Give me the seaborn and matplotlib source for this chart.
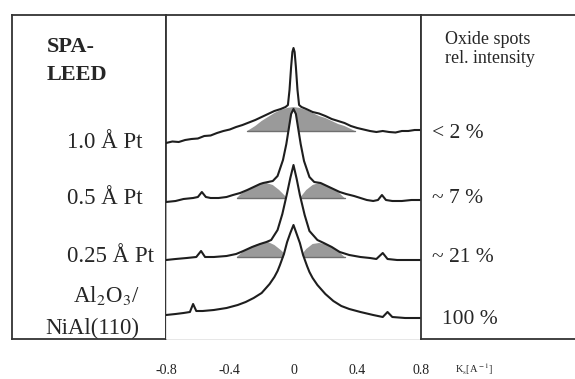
import numpy as np
import seaborn as sns
import matplotlib.pyplot as plt

# --- data (k in 1/A, intensity in arbitrary stacked units) ---
k1 = [-0.80, -0.76, -0.72, -0.68, -0.64, -0.60, -0.56, -0.52, -0.48, -0.44, -0.40, -0.36,
      -0.32, -0.28, -0.24, -0.20, -0.16, -0.12, -0.08, -0.05, -0.035, -0.025, -0.015, -0.007,
      0.0, 0.007, 0.015, 0.025, 0.035, 0.05, 0.08, 0.12, 0.16, 0.20, 0.24, 0.28, 0.32, 0.36,
      0.40, 0.44, 0.48, 0.52, 0.56, 0.60, 0.64, 0.68, 0.72, 0.76, 0.80]
i1 = [196, 197.5, 197, 199, 200, 200.5, 203, 203.5, 206, 208, 209.5, 212, 214, 216.5, 219,
      222, 225, 228, 230, 232, 234, 249, 272, 287, 291, 287, 272, 249, 234, 232, 230, 227,
      225.5, 223, 220, 218, 216, 213, 211, 209.5, 208, 207, 208, 207, 206.5, 208, 208, 209, 209]
g1_k = [-0.29, -0.24, -0.20, -0.16, -0.12, -0.08, -0.04, 0.0, 0.04, 0.08, 0.12, 0.16, 0.20,
        0.24, 0.28, 0.32, 0.36, 0.385]
g1_top = [208, 213, 218, 222, 226, 229, 231, 232, 231, 229, 226, 223, 221, 218, 215, 213, 210, 208]
g1_base = 208

k2 = [-0.80, -0.74, -0.69, -0.63, -0.60, -0.575, -0.55, -0.52, -0.47, -0.42, -0.38, -0.335,
      -0.29, -0.25, -0.21, -0.19, -0.16, -0.13, -0.10, -0.066, -0.045, -0.03, -0.015, 0.0,
      0.015, 0.03, 0.045, 0.066, 0.10, 0.13, 0.17, 0.21, 0.25, 0.29, 0.33, 0.38, 0.42, 0.46,
      0.50, 0.53, 0.555, 0.58, 0.62, 0.68, 0.74, 0.80]
i2 = [137, 138, 140, 141, 142, 147, 142, 141, 141, 142, 144, 146, 149, 152, 155, 156, 157,
      158, 163, 179, 195, 210, 225, 230, 225, 210, 195, 178, 162, 157, 156, 153, 150, 147,
      145, 143, 141, 139, 138, 139, 144, 139, 138, 138, 139, 139]
g2_left_k = [-0.355, -0.33, -0.29, -0.25, -0.21, -0.17, -0.13, -0.09, -0.04]
g2_left_top = [141, 145, 149, 152, 155, 156, 154, 149, 141]
g2_right_k = [0.04, 0.08, 0.12, 0.16, 0.20, 0.24, 0.28, 0.32]
g2_right_top = [141, 149, 154, 156, 154, 151, 147, 141]
g2_base = 141

k3 = [-0.80, -0.74, -0.67, -0.61, -0.58, -0.555, -0.50, -0.42, -0.36, -0.315, -0.26, -0.21,
      -0.17, -0.14, -0.10, -0.07, -0.04, -0.02, 0.0, 0.02, 0.04, 0.07, 0.10, 0.15, 0.19, 0.24,
      0.29, 0.35, 0.42, 0.48, 0.52, 0.56, 0.59, 0.65, 0.72, 0.80]
i3 = [79, 80, 81, 82, 88, 82, 82, 83, 85, 88, 92, 95, 97, 99, 109, 125, 146, 161, 174, 160,
      144, 124, 108, 99, 96, 92, 87, 84, 82, 81, 80, 86, 80, 79, 79, 79]
g3_left_k = [-0.355, -0.32, -0.28, -0.24, -0.20, -0.16, -0.12, -0.08, -0.035]
g3_left_top = [82, 87, 91, 94, 96, 97, 94, 89, 82]
g3_right_k = [0.04, 0.08, 0.12, 0.16, 0.20, 0.24, 0.28, 0.32]
g3_right_top = [82, 90, 95, 96, 95, 92, 88, 82]
g3_base = 82

k4 = [-0.80, -0.74, -0.69, -0.65, -0.63, -0.61, -0.57, -0.50, -0.42, -0.35, -0.30, -0.25,
      -0.20, -0.15, -0.12, -0.10, -0.085, -0.06, -0.04, -0.02, 0.0, 0.02, 0.04, 0.06, 0.085,
      0.10, 0.12, 0.15, 0.20, 0.25, 0.30, 0.35, 0.42, 0.50, 0.56, 0.59, 0.62, 0.70, 0.80]
i4 = [24, 25, 26, 27, 35, 28, 28, 29, 31, 34, 37, 41, 46, 55, 62, 68, 74, 85, 97, 106, 114,
      105, 96, 84, 73, 67, 61, 54, 45, 38, 33, 30, 27, 24, 22, 27, 22, 21, 21]

sample_labels = ["1.0 Å Pt", "0.5 Å Pt", "0.25 Å Pt"]
oxide_labels = ["< 2 %", "~ 7 %", "~ 21 %", "100 %"]
tick_vals = [-0.8, -0.4, 0, 0.4, 0.8]
tick_text = ["-0.8", "-0.4", "0", "0.4", "0.8"]

# --- styling ---
sns.set_theme(style="white")
plt.rcParams['font.family'] = ['Liberation Serif', 'DejaVu Serif']
plt.rcParams['mathtext.fontset'] = 'stix'

W, H = 575, 379
fig = plt.figure(figsize=(W / 100, H / 100), dpi=100)


def box(x0, x1):
    # axes rectangle given in pixel columns, top 15 / bottom 339
    return [x0 / W, (H - 339) / H, (x1 - x0) / W, 324 / H]


def px(x, y):
    return x / W, 1 - y / H


frame = '#333333'
ax_l = fig.add_axes(box(12, 166))
ax = fig.add_axes(box(166, 421))
ax_r = fig.add_axes(box(421, 575))
for a in (ax_l, ax_r):
    a.set_xticks([])
    a.set_yticks([])
    a.set_facecolor('white')
ax_r.spines['right'].set_visible(False)
for a in (ax_l, ax, ax_r):
    for s in a.spines.values():
        s.set_color(frame)
        s.set_linewidth(1.3)

line_c = '#1e1e1e'
grey = '#9a9a9a'
curves = [(k1, i1), (k2, i2), (k3, i3), (k4, i4)]
greys = [
    [(g1_k, g1_top, g1_base)],
    [(g2_left_k, g2_left_top, g2_base), (g2_right_k, g2_right_top, g2_base)],
    [(g3_left_k, g3_left_top, g3_base), (g3_right_k, g3_right_top, g3_base)],
    [],
]

for n, ((kk, ii), gg) in enumerate(zip(curves, greys)):
    z = 2 + 3 * n
    # white fill so lower curves hide what lies under them
    ax.fill_between(kk, 0, ii, color='white', zorder=z, linewidth=0)
    for gk, gt, gb in gg:
        ax.fill_between(gk, gb, gt, facecolor=grey, edgecolor='none', zorder=z + 0.5)
        ax.plot([gk[0], gk[-1]], [gb, gb], color='#6f6f6f', lw=1.0, zorder=z + 0.6)
    sns.lineplot(x=kk, y=ii, ax=ax, color=line_c, linewidth=1.5, zorder=z + 1)

ax.set_xlim(-0.8, 0.8)
ax.set_ylim(0, 324)
ax.set_yticks([])
ax.set_xticks(tick_vals)
ax.set_xticklabels(tick_text, fontsize=10)
ax.tick_params(axis='x', length=0, pad=18, colors='#222222')
ax.set_xlabel('')
ax.set_ylabel('')

# left panel texts
fig.text(*px(47, 52), "SPA-", fontsize=16, fontweight='bold', va='baseline', ha='left')
fig.text(*px(47, 80), "LEED", fontsize=16, fontweight='bold', va='baseline', ha='left')
for lab, yb in zip(sample_labels, [148, 204, 262]):
    fig.text(*px(67, yb), lab, fontsize=16.5, va='baseline', ha='left')
fig.text(*px(73, 302), "Al$_2$O$_3$/", fontsize=16.5, va='baseline', ha='left')
fig.text(*px(45, 334), "NiAl(110)", fontsize=16.5, va='baseline', ha='left')

# right panel texts
fig.text(*px(445, 44), "Oxide spots", fontsize=13, va='baseline', ha='left')
fig.text(*px(445, 63), "rel. intensity", fontsize=13, va='baseline', ha='left')
for lab, (xl, yb) in zip(oxide_labels, [(432, 138), (432, 203), (432, 262), (442, 324)]):
    fig.text(*px(xl, yb), lab, fontsize=15.5, va='baseline', ha='left')

fig.text(*px(455, 373), "K$_{\\rm s}$[A$^{\\rm -1}$]", fontsize=7.5, va='baseline', ha='left')

fig.savefig("out.png", dpi=100, facecolor='white')
